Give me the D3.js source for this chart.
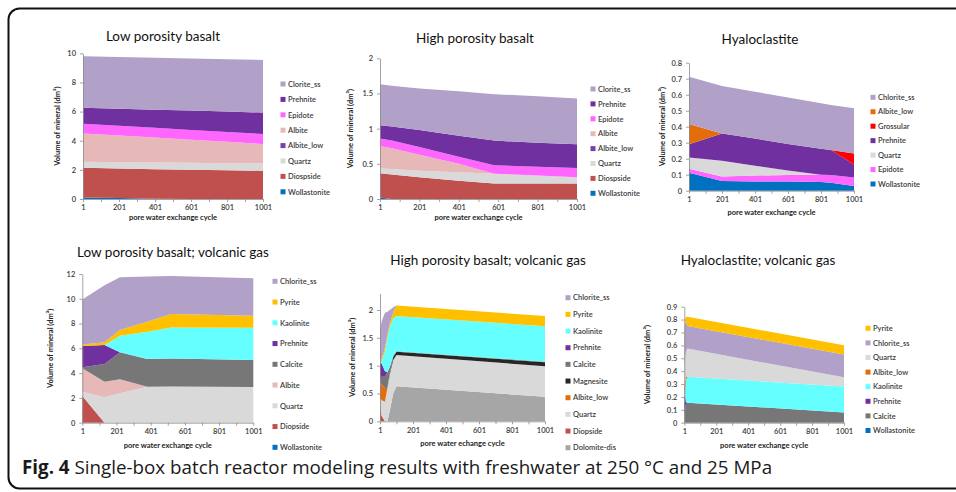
<!DOCTYPE html>
<html>
<head>
<meta charset="utf-8">
<script src="https://cdn.jsdelivr.net/npm/d3@7"></script>
<style>
  html, body { margin: 0; padding: 0; background: #fff; }
  svg { display: block; }
</style>
</head>
<body>
<svg id="fig" width="956" height="492"></svg>
<script>
// ---------- Low porosity basalt ----------
const lowCycles        = [1, 201, 401, 601, 801, 1001];
const lowWollastonite  = [0.11, 0.07, 0.02, 0, 0, 0];
const lowDiopside      = [2.04, 2.03, 2.03, 2.0, 1.97, 1.94];
const lowQuartz        = [0.41, 0.43, 0.45, 0.48, 0.49, 0.51];
const lowAlbiteLow     = [0, 0, 0, 0, 0, 0];
const lowAlbite        = [1.94, 1.83, 1.72, 1.59, 1.47, 1.33];
const lowEpidote       = [0.67, 0.67, 0.67, 0.67, 0.67, 0.68];
const lowPrehnite      = [1.1, 1.17, 1.24, 1.33, 1.4, 1.47];
const lowChlorite      = [3.52, 3.54, 3.56, 3.57, 3.59, 3.61];

// ---------- High porosity basalt ----------
const highCycles       = [1, 61, 201, 401, 581, 801, 1001];
const highWollastonite = [0.02, 0, 0, 0, 0, 0, 0];
const highDiopside     = [0.345, 0.35, 0.31, 0.26, 0.22, 0.22, 0.22];
const highQuartz       = [0.07, 0.075, 0.09, 0.12, 0.14, 0.115, 0.09];
const highAlbiteLow    = [0, 0, 0, 0, 0, 0, 0];
const highAlbite       = [0.315, 0.295, 0.23, 0.12, 0, 0, 0];
const highEpidote      = [0.11, 0.11, 0.11, 0.1, 0.12, 0.125, 0.13];
const highPrehnite     = [0.19, 0.2, 0.24, 0.3, 0.35, 0.34, 0.34];
const highChlorite     = [0.58, 0.58, 0.59, 0.63, 0.66, 0.66, 0.65];

// ---------- Hyaloclastite ----------
const hyaCycles        = [1, 201, 401, 601, 801, 861, 1001];
const hyaWollastonite  = [0.112, 0.06, 0.058, 0.057, 0.055, 0.05, 0.03];
const hyaEpidote       = [0.025, 0.028, 0.037, 0.041, 0.045, 0.048, 0.052];
const hyaQuartz        = [0.07, 0.099, 0.061, 0.028, 0, 0, 0];
const hyaPrehnite      = [0.083, 0.17, 0.17, 0.166, 0.162, 0.157, 0.081];
const hyaGrossular     = [0, 0, 0, 0, 0, 0, 0.069];
const hyaAlbiteLow     = [0.127, 0, 0, 0, 0, 0, 0];
const hyaChlorite      = [0.295, 0.297, 0.293, 0.29, 0.285, 0.28, 0.283];

// ---------- Low porosity basalt; volcanic gas ----------
const lowGasCycles       = [1, 131, 221, 381, 521, 1001];
const lowGasWollastonite = [0, 0, 0, 0, 0, 0];
const lowGasDiopside     = [2.15, 0, 0, 0, 0, 0];
const lowGasQuartz       = [0.35, 2.05, 2.37, 2.9, 2.92, 2.88];
const lowGasAlbite       = [1.89, 1.25, 1.13, 0, 0, 0];
const lowGasCalcite      = [0.08, 1.43, 2.18, 2.24, 2.27, 2.18];
const lowGasPrehnite     = [1.72, 1.54, 0, 0, 0, 0];
const lowGasKaolinite    = [0, 0, 1.34, 2.2, 2.5, 2.61];
const lowGasPyrite       = [0.13, 0.23, 0.46, 0.81, 1.08, 0.97];
const lowGasChlorite     = [3.63, 4.6, 4.25, 3.65, 3.07, 3.01];

// ---------- High porosity basalt; volcanic gas ----------
const highGasCycles     = [1, 11, 31, 46, 61, 81, 101, 1001];
const highGasDolomite   = [0, 0, 0, 0, 0.2, 0.5, 0.63, 0.44];
const highGasDiopside   = [0.25, 0.1, 0, 0, 0, 0, 0, 0];
const highGasQuartz     = [0.17, 0.28, 0.35, 0.6, 0.65, 0.6, 0.56, 0.55];
const highGasAlbiteLow  = [0.28, 0.28, 0.25, 0, 0, 0, 0, 0];
const highGasMagnesite  = [0, 0, 0, 0, 0.03, 0.05, 0.06, 0.07];
const highGasCalcite    = [0.08, 0.14, 0.2, 0.28, 0.1, 0.03, 0.01, 0.01];
const highGasPrehnite   = [0.27, 0.24, 0.1, 0, 0, 0, 0, 0];
const highGasKaolinite  = [0, 0.04, 0.35, 0.62, 0.72, 0.67, 0.63, 0.64];
const highGasPyrite     = [0.02, 0.04, 0.07, 0.05, 0.06, 0.1, 0.19, 0.18];
const highGasChlorite   = [0.56, 0.68, 0.63, 0.42, 0.24, 0.1, 0, 0];

// ---------- Hyaloclastite; volcanic gas ----------
const hyaGasCycles       = [1, 6, 11, 21, 1001];
const hyaGasWollastonite = [0.03, 0, 0, 0, 0];
const hyaGasCalcite      = [0, 0.1, 0.14, 0.155, 0.08];
const hyaGasPrehnite     = [0.17, 0.12, 0.02, 0, 0];
const hyaGasKaolinite    = [0, 0.03, 0.17, 0.202, 0.2];
const hyaGasAlbiteLow    = [0.08, 0.07, 0.03, 0, 0];
const hyaGasQuartz       = [0.14, 0.18, 0.19, 0.218, 0.072];
const hyaGasChlorite     = [0.3, 0.27, 0.24, 0.175, 0.178];
const hyaGasPyrite       = [0.02, 0.03, 0.03, 0.072, 0.07];

// x-axis ticks: a mark every 100 cycles, a label every 200
const cycleTicks  = [1, 101, 201, 301, 401, 501, 601, 701, 801, 901, 1001];
const cycleLabels = [1, 201, 401, 601, 801, 1001];

const captionBold = "Fig. 4";
const captionText = " Single-box batch reactor modeling results with freshwater at 250 °C and 25 MPa";

// mineral fill colours
const COL = {
  chlorite: "#b1a0c7", prehnite: "#7030a0", epidote: "#ff66ff", albite: "#e6b9b8",
  albiteLowPurple: "#7a3fae", albiteLow: "#e46c0a", quartz: "#d9d9d9", diopside: "#c0504d",
  wollastonite: "#0070c0", grossular: "#ff0000", pyrite: "#ffc000", kaolinite: "#66ffff",
  calcite: "#777777", magnesite: "#262626", dolomite: "#a6a6a6"
};

const FONT = "Lato, 'Open Sans', sans-serif";
const svg = d3.select("#fig");

// frame round the whole figure
svg.append("rect")
  .attr("x", 8.5).attr("y", 8.5).attr("width", 1000).attr("height", 480)
  .attr("rx", 11).attr("fill", "none").attr("stroke", "#111").attr("stroke-width", 2);

// series are listed bottom of the stack first
const panels = [
  { title: "Low porosity basalt", cycles: lowCycles, yMax: 10, yTicks: d3.range(0, 11, 2), fmt: d3.format("d"),
    left: 83, right: 263, top: 53.3, bottom: 199, titleX: 163, titleY: 41, yLabelX: 60,
    xLabel: "pore water exchange cycle", xLabelY: 220, legX: 283, legY: 84, legStep: 15.4,
    series: [
      ["Wollastonite", lowWollastonite, COL.wollastonite], ["Diospside", lowDiopside, COL.diopside],
      ["Quartz", lowQuartz, COL.quartz], ["Albite_low", lowAlbiteLow, COL.albiteLowPurple],
      ["Albite", lowAlbite, COL.albite], ["Epidote", lowEpidote, COL.epidote],
      ["Prehnite", lowPrehnite, COL.prehnite], ["Clorite_ss", lowChlorite, COL.chlorite]] },
  { title: "High porosity basalt", cycles: highCycles, yMax: 2, yTicks: [0, 0.5, 1, 1.5, 2], fmt: d3.format("~g"),
    left: 380, right: 577, top: 58.3, bottom: 199, titleX: 475, titleY: 43, yLabelX: 353,
    xLabel: "pore water exchange cycle", xLabelY: 220, legX: 593, legY: 89, legStep: 14.9,
    series: [
      ["Wollastonite", highWollastonite, COL.wollastonite], ["Diospside", highDiopside, COL.diopside],
      ["Quartz", highQuartz, COL.quartz], ["Albite_low", highAlbiteLow, COL.albiteLowPurple],
      ["Albite", highAlbite, COL.albite], ["Epidote", highEpidote, COL.epidote],
      ["Prehnite", highPrehnite, COL.prehnite], ["Clorite_ss", highChlorite, COL.chlorite]] },
  { title: "Hyaloclastite", cycles: hyaCycles, yMax: 0.8, yTicks: d3.range(0, 0.81, 0.1), fmt: d3.format("~g"),
    left: 689, right: 854, top: 62.7, bottom: 190.7, titleX: 760, titleY: 44, yLabelX: 665,
    xLabel: "pore water exchange cycle", xLabelY: 215, legX: 873, legY: 97.3, legStep: 14.45,
    series: [
      ["Wollastonite", hyaWollastonite, COL.wollastonite], ["Epidote", hyaEpidote, COL.epidote],
      ["Quartz", hyaQuartz, COL.quartz], ["Prehnite", hyaPrehnite, COL.prehnite],
      ["Grossular", hyaGrossular, COL.grossular], ["Albite_low", hyaAlbiteLow, COL.albiteLow],
      ["Chlorite_ss", hyaChlorite, COL.chlorite]] },
  { title: "Low porosity basalt; volcanic gas", cycles: lowGasCycles, yMax: 12, yTicks: d3.range(0, 13, 2), fmt: d3.format("d"),
    left: 82.3, right: 253.3, top: 274, bottom: 422.7, titleX: 173, titleY: 257, yLabelX: 53,
    xLabel: "pore water exchange cycle", xLabelY: 448, legX: 275, legY: 281.3, legStep: 20.75,
    series: [
      ["Wollastonite", lowGasWollastonite, COL.wollastonite], ["Diopside", lowGasDiopside, COL.diopside],
      ["Quartz", lowGasQuartz, COL.quartz], ["Albite", lowGasAlbite, COL.albite],
      ["Calcite", lowGasCalcite, COL.calcite], ["Prehnite", lowGasPrehnite, COL.prehnite],
      ["Kaolinite", lowGasKaolinite, COL.kaolinite], ["Pyrite", lowGasPyrite, COL.pyrite],
      ["Chlorite_ss", lowGasChlorite, COL.chlorite]] },
  { title: "High porosity basalt; volcanic gas", cycles: highGasCycles, yMax: 2.3, yTicks: [0, 0.5, 1, 1.5, 2], fmt: d3.format("~g"),
    left: 380, right: 545, top: 293.3, bottom: 421.3, titleX: 488, titleY: 265, yLabelX: 355,
    xLabel: "pore water echange cycle", xLabelY: 446, legX: 568, legY: 297.7, legStep: 16.67,
    series: [
      ["Dolomite-dis", highGasDolomite, COL.dolomite], ["Diopside", highGasDiopside, COL.diopside],
      ["Quartz", highGasQuartz, COL.quartz], ["Albite_low", highGasAlbiteLow, COL.albiteLow],
      ["Magnesite", highGasMagnesite, COL.magnesite], ["Calcite", highGasCalcite, COL.calcite],
      ["Prehnite", highGasPrehnite, COL.prehnite], ["Kaolinite", highGasKaolinite, COL.kaolinite],
      ["Pyrite", highGasPyrite, COL.pyrite], ["Chlorite_ss", highGasChlorite, COL.chlorite]] },
  { title: "Hyaloclastite; volcanic gas", cycles: hyaGasCycles, yMax: 0.9, yTicks: d3.range(0, 0.91, 0.1), fmt: d3.format("~g"),
    left: 684.3, right: 844, top: 306.7, bottom: 422.7, titleX: 758, titleY: 265, yLabelX: 650,
    xLabel: "pore water exchange cycle", xLabelY: 448, legX: 868, legY: 328.3, legStep: 14.6,
    series: [
      ["Wollastonite", hyaGasWollastonite, COL.wollastonite], ["Calcite", hyaGasCalcite, COL.calcite],
      ["Prehnite", hyaGasPrehnite, COL.prehnite], ["Kaolinite", hyaGasKaolinite, COL.kaolinite],
      ["Albite_low", hyaGasAlbiteLow, COL.albiteLow], ["Quartz", hyaGasQuartz, COL.quartz],
      ["Chlorite_ss", hyaGasChlorite, COL.chlorite], ["Pyrite", hyaGasPyrite, COL.pyrite]] }
];

function drawPanel(p) {
  const g = svg.append("g");
  const x = d3.scaleLinear().domain([1, 1001]).range([p.left, p.right]);
  const y = d3.scaleLinear().domain([0, p.yMax]).range([p.bottom, p.top]);
  const keys = p.series.map(s => s[0]);
  const colour = new Map(p.series.map(s => [s[0], s[2]]));

  const rows = p.cycles.map((c, i) => {
    const r = { cycle: c };
    p.series.forEach(s => { r[s[0]] = s[1][i]; });
    return r;
  });
  const layers = d3.stack().keys(keys)(rows);
  const area = d3.area()
    .x(d => x(d.data.cycle))
    .y0(d => y(d[0]))
    .y1(d => y(d[1]));

  g.append("g").selectAll("path").data(layers).join("path")
    .attr("fill", d => colour.get(d.key))
    .attr("d", area);

  // axes
  const yAxis = g.append("g").attr("transform", `translate(${p.left},0)`)
    .call(d3.axisLeft(y).tickValues(p.yTicks).tickFormat(p.fmt).tickSize(3).tickSizeOuter(0).tickPadding(4));
  const xAxis = g.append("g").attr("transform", `translate(0,${p.bottom})`)
    .call(d3.axisBottom(x).tickValues(cycleTicks)
      .tickFormat(d => cycleLabels.includes(d) ? d : "")
      .tickSize(3).tickSizeOuter(0).tickPadding(3));
  [yAxis, xAxis].forEach(a => {
    a.selectAll("path, line").attr("stroke", "#8c8c8c").attr("stroke-width", 0.8);
    a.selectAll("text").attr("font-family", FONT).attr("font-size", 7.5)
      .attr("font-weight", 600).attr("fill", "#3a3a3a");
  });

  // titles
  g.append("text").attr("x", p.titleX).attr("y", p.titleY).attr("text-anchor", "middle")
    .attr("font-family", FONT).attr("font-size", 13.5).attr("fill", "#111").text(p.title);
  g.append("text")
    .attr("transform", `translate(${p.yLabelX},${(p.top + p.bottom) / 2}) rotate(-90)`)
    .attr("text-anchor", "middle").attr("font-family", FONT).attr("font-size", 7.5)
    .attr("font-weight", 700).attr("fill", "#222").text("Volume of mineral (dm³)");
  g.append("text").attr("x", (p.left + p.right) / 2).attr("y", p.xLabelY).attr("text-anchor", "middle")
    .attr("font-family", FONT).attr("font-size", 7.5).attr("font-weight", 700).attr("fill", "#222")
    .text(p.xLabel);

  // legend, top of the stack first
  const leg = g.append("g").selectAll("g").data(keys.slice().reverse()).join("g")
    .attr("transform", (d, i) => `translate(${p.legX},${p.legY + i * p.legStep})`);
  leg.append("rect").attr("x", -2.5).attr("y", -2.5).attr("width", 5).attr("height", 5)
    .attr("fill", d => colour.get(d));
  leg.append("text").attr("x", 5).attr("y", 2.7).attr("font-family", FONT).attr("font-size", 7.5)
    .attr("font-weight", 600).attr("fill", "#3a3a3a").text(d => d);
}

panels.forEach(drawPanel);

// caption
const cap = svg.append("text").attr("x", 22).attr("y", 474)
  .attr("font-family", "'Liberation Sans Narrow', 'Open Sans', sans-serif").attr("font-size", 19).attr("fill", "#1a1a1a");
cap.append("tspan").attr("font-weight", 700).text(captionBold);
cap.append("tspan").text(captionText);
const capW = cap.node().getComputedTextLength();
cap.attr("transform", `translate(22,0) scale(${751 / capW},1) translate(-22,0)`);
</script>
</body>
</html>
